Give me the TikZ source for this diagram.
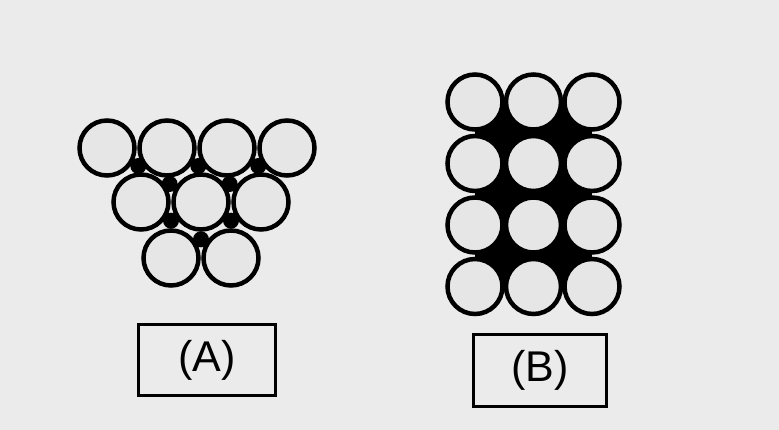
\documentclass[tikz,border=0pt]{standalone}
\usepackage{fontspec}
\setmainfont{Liberation Sans}
\usetikzlibrary{positioning, backgrounds}
\definecolor{paper}{HTML}{EBEBEB}
\definecolor{ballfill}{HTML}{E6E6E6}
\tikzset{
    ball/.style = {circle, draw, line width=4.5pt, fill=ballfill, minimum size=55pt, inner sep=0pt},
    labelbox/.style = {rectangle, draw, line width=3.5pt, fill=paper, minimum width=134pt, minimum height=71pt, font=\fontsize{43}{45}\selectfont},
    gap/.style = {fill=black}
}

\begin{document}
\begin{tikzpicture}[x=1pt, y=-1pt, node distance=60pt]
        % Packing (A)
        \node [ball] (a1) at (107,148) {};
        \node [ball, right of=a1] (a2) {};
        \node [ball, right of=a2] (a3) {};
        \node [ball, right of=a3] (a4) {};
        \node [ball] (a5) at (141,202) {};
        \node [ball, right of=a5] (a6) {};
        \node [ball, right of=a6] (a7) {};
        \node [ball] (a8) at (171,258) {};
        \node [ball, right of=a8] (a9) {};

        % Packing (B)
        \begin{scope}[node distance=58.5pt]
        \node [ball] (b11) at (475,102) {};
        \node [ball, right of=b11] (b12) {};
        \node [ball, right of=b12] (b13) {};
        \node [ball, below of=b11, node distance=61.5pt] (b21) {};
        \node [ball, right of=b21] (b22) {};
        \node [ball, right of=b22] (b23) {};
        \node [ball, below of=b21, node distance=61.5pt] (b31) {};
        \node [ball, right of=b31] (b32) {};
        \node [ball, right of=b32] (b33) {};
        \node [ball, below of=b31, node distance=61.5pt] (b41) {};
        \node [ball, right of=b41] (b42) {};
        \node [ball, right of=b42] (b43) {};
        \end{scope}

        % Labels
        \node [labelbox, minimum width=137pt] (labA) at (207,360) {(A)};
        \node [labelbox, minimum width=133pt, minimum height=72pt] (labB) at (540,370.5) {(B)};

        % Paper and voids
        \begin{pgfonlayer}{background}
        \fill[paper] (0,0) rectangle (779,430);
        \fill[gap] (barycentric cs:a1=1,a2=1,a5=1) circle (8pt);
        \fill[gap] (barycentric cs:a2=1,a5=1,a6=1) circle (8pt);
        \fill[gap] (barycentric cs:a2=1,a3=1,a6=1) circle (8pt);
        \fill[gap] (barycentric cs:a3=1,a6=1,a7=1) circle (8pt);
        \fill[gap] (barycentric cs:a3=1,a4=1,a7=1) circle (8pt);
        \fill[gap] (barycentric cs:a5=1,a6=1,a8=1) circle (8pt);
        \fill[gap] (barycentric cs:a6=1,a8=1,a9=1) circle (8pt);
        \fill[gap] (barycentric cs:a6=1,a7=1,a9=1) circle (8pt);
        \fill[gap] (b11.center) rectangle (b43.center);
        \end{pgfonlayer}

    \end{tikzpicture}
\end{document}
